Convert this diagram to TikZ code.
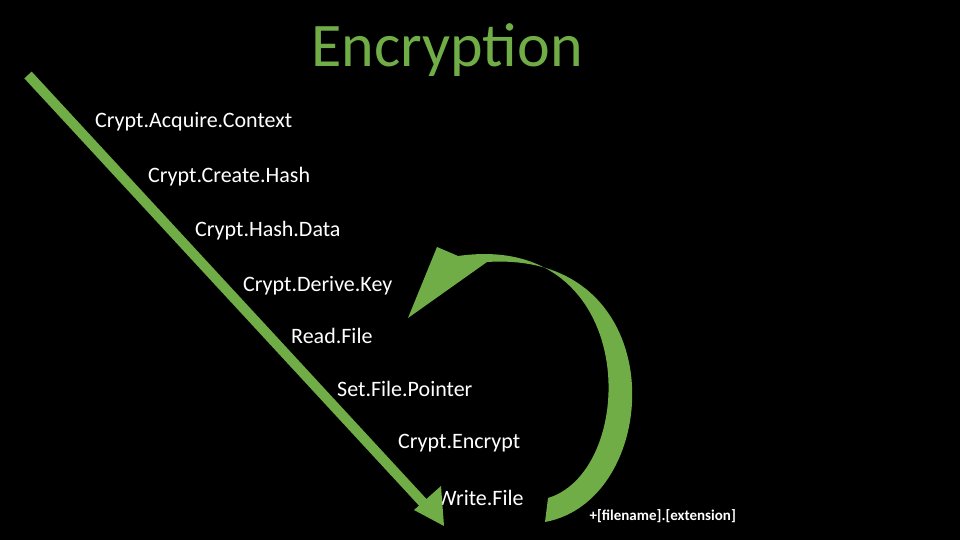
\documentclass[tikz,border=0pt]{standalone}
\usepackage{fontspec}
\setmainfont{Carlito}
\definecolor{grn}{HTML}{70AD47}
\begin{document}
\begin{tikzpicture}[x=1pt,y=-1pt,
  item/.style={anchor=west,text=white,font=\fontsize{22}{22}\selectfont,inner sep=0pt}]
\fill[black] (0,0) rectangle (960,540);
\useasboundingbox (0,0) rectangle (960,540);
\node[text=grn,font=\fontsize{62}{62}\selectfont] (title) at (447,50) {Encryption};
\node[item] (a) at (95,122) {Crypt.Acquire.Context};
\node[item] (b) at (148,177) {Crypt.Create.Hash};
\node[item] (c) at (195,231) {Crypt.Hash.Data};
\node[item] (d) at (243,286) {Crypt.Derive.Key};
\node[item] (e) at (291,336) {Read.File};
\node[item] (f) at (337,389) {Set.File.Pointer};
\node[item] (g) at (398,443) {Crypt.Encrypt};
\node[item] (h) at (437,498) {Write.File};
\node[anchor=west,text=white,font=\fontsize{15}{15}\selectfont\bfseries] (ext) at (586,516) {+[filename].[extension]};
\coordinate (s) at (28,75);
\coordinate (t) at (428,508);
\draw[grn,line width=10pt] (s) -- (t);
\fill[grn] (444,526) -- (414,510) -- (441,486) -- cycle;
% curved arrow
\fill[grn] (545,522) .. controls (665,500) and (675,250) .. (487,262)
  -- (408,318) -- (437,247) -- (458,256)
  .. controls (640,230) and (640,470) .. (548,498) -- cycle;
\end{tikzpicture}
\end{document}
